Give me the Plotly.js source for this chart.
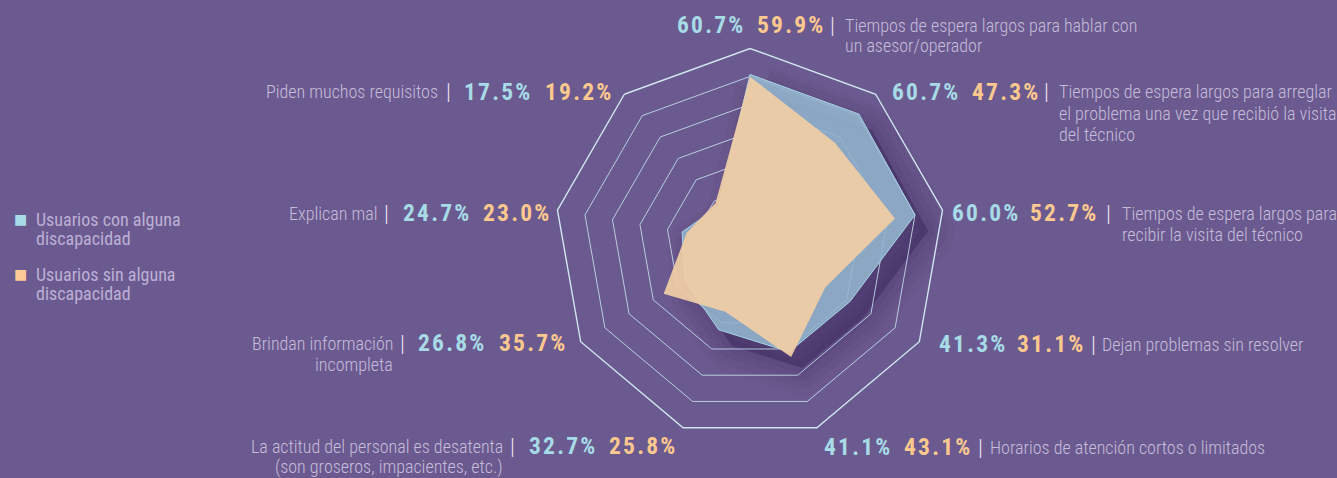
<!DOCTYPE html>
<html>
<head>
<meta charset="utf-8">
<script src="https://cdn.plot.ly/plotly-3.0.1.min.js"></script>
<style>
  html, body { margin:0; padding:0; background:#6b5a8f; }
  #chart { width:1337px; height:478px; }
  .polar .scatterlayer path.js-line { stroke-linejoin: round; }
</style>
</head>
<body>
<div id="chart"></div>
<script>
// ---- data ----
const categories = [
  "Tiempos de espera largos para hablar con<br>un asesor/operador",
  "Tiempos de espera largos para arreglar<br>el problema una vez que recibió la visita<br>del técnico",
  "Tiempos de espera largos para<br>recibir la visita del técnico",
  "Dejan problemas sin resolver",
  "Horarios de atención cortos o limitados",
  "La actitud del personal es desatenta<br>(son groseros, impacientes, etc.)",
  "Brindan información<br>incompleta",
  "Explican mal",
  "Piden muchos requisitos"
];
const conDiscapacidad = [60.7, 60.7, 60.0, 41.3, 41.1, 32.7, 26.8, 24.7, 17.5];
const sinDiscapacidad = [59.9, 47.3, 52.7, 31.1, 43.1, 25.8, 35.7, 23.0, 19.2];
const seriesNames = ["Usuarios con alguna<br>discapacidad", "Usuarios sin alguna<br>discapacidad"];

// ---- style / layout ----
const W = 1337, H = 478;
const BG = '#6b5a8f';
const BLUE_TXT = '#a7dbe7', ORANGE_TXT = '#fdc98f', CAT_TXT = '#c6bddb', PIPE = '#e8e2f2';
const FONT = '"Roboto Condensed", "Liberation Sans Narrow", "DejaVu Sans Condensed", Roboto, sans-serif';
const cx = 750, cy = 244, R = 195.5;

// label placement (pixels): blue value x, orange value x, pipe x, text x, first-line y, side
const labelPos = [
  {b:675, o:755, p:832, t:843, y:25, side:'right'},
  {b:890, o:970, p:1046, t:1057, y:92, side:'right'},
  {b:950, o:1028, p:1108, t:1120, y:213, side:'right'},
  {b:937, o:1015, p:1093, t:1100, y:344, side:'right'},
  {b:822, o:902, p:980, t:988, y:447, side:'right'},
  {b:527, o:607, p:512, t:505, y:446, side:'left'},
  {b:416, o:497, p:402, t:395, y:343, side:'left'},
  {b:401, o:481, p:386, t:379, y:213, side:'left'},
  {b:462, o:543, p:448, t:440, y:92, side:'left'}
];
const LINE_GAP = 21;

const px = x => x / W;
const py = y => 1 - y / H;
const theta = categories.map(c => c.replace(/<br>/g, ' '));

function dom(dx, dy) {
  return {
    x: [px(cx - R + dx), px(cx + R + dx)],
    y: [py(cy + R + dy), py(cy - R + dy)]
  };
}

const close = arr => arr.concat([arr[0]]);
const thetaC = close(theta);

const traces = [];
// soft shadow layers (drawn in an offset, invisible polar subplot)
const shadowLayers = [
  {w: 54, a: 0.035}, {w: 40, a: 0.05}, {w: 26, a: 0.065}, {w: 12, a: 0.08}
];
shadowLayers.forEach(s => {
  traces.push({
    type: 'scatterpolar', subplot: 'polar', r: close(conDiscapacidad), theta: thetaC,
    mode: 'lines', fill: 'toself', fillcolor: 'rgba(45,28,75,0.10)',
    line: {color: 'rgba(45,28,75,' + s.a + ')', width: s.w},
    hoverinfo: 'skip', showlegend: false
  });
});
traces.push({
  type: 'scatterpolar', subplot: 'polar2', r: close(conDiscapacidad), theta: thetaC,
  name: seriesNames[0], mode: 'lines', fill: 'toself',
  fillcolor: 'rgba(146,179,204,0.9)', line: {color: 'rgba(170,215,232,0.95)', width: 1},
  showlegend: false
});
traces.push({
  type: 'scatterpolar', subplot: 'polar2', r: close(sinDiscapacidad), theta: thetaC,
  name: seriesNames[1], mode: 'lines', fill: 'toself',
  fillcolor: 'rgba(240,206,166,0.93)', line: {color: 'rgba(240,206,166,0.0)', width: 0},
  showlegend: false
});

const annotations = [];
const fmt = v => v.toFixed(1) + '%';
const CAT_SIZE = 18, VAL_SIZE = 23.5;
function textLines(lines, x, y0, anchor, size, color, weight, gap) {
  lines.forEach((ln, k) => {
    annotations.push({
      xref:'paper', yref:'paper', x:px(x), y:py(y0 + k * gap), showarrow:false,
      xanchor: anchor, yanchor:'middle', text: ln,
      font:{family:FONT, size:size, color:color, weight:weight}
    });
  });
}
categories.forEach((cat, i) => {
  const L = labelPos[i];
  textLines(cat.split('<br>'), L.t, L.y, L.side === 'right' ? 'left' : 'right',
            CAT_SIZE, CAT_TXT, 300, LINE_GAP);
  annotations.push({
    xref:'paper', yref:'paper', x:px(L.p), y:py(L.y), showarrow:false,
    xanchor:'center', yanchor:'middle', text:'|',
    font:{family:FONT, size:22, color:PIPE, weight:300}
  });
  annotations.push({
    xref:'paper', yref:'paper', x:px(L.b), y:py(L.y), showarrow:false,
    xanchor:'left', yanchor:'middle',
    text:'<span style="letter-spacing:2.2px">' + fmt(conDiscapacidad[i]) + '</span>',
    font:{family:FONT, size:VAL_SIZE, color:BLUE_TXT, weight:700}
  });
  annotations.push({
    xref:'paper', yref:'paper', x:px(L.o), y:py(L.y), showarrow:false,
    xanchor:'left', yanchor:'middle',
    text:'<span style="letter-spacing:2.2px">' + fmt(sinDiscapacidad[i]) + '</span>',
    font:{family:FONT, size:VAL_SIZE, color:ORANGE_TXT, weight:700}
  });
});

// legend (as text)
const legendPos = [{sx:20, tx:34, y:219}, {sx:20, tx:34, y:274}];
const legendColors = [BLUE_TXT, '#fdcb95'];
seriesNames.forEach((n, i) => {
  const L = legendPos[i];
  annotations.push({
    xref:'paper', yref:'paper', x:px(L.sx), y:py(L.y), showarrow:false,
    xanchor:'center', yanchor:'middle', text:'■',
    font:{family:'DejaVu Sans', size:14, color:legendColors[i]}
  });
  textLines(n.split('<br>'), L.tx, L.y, 'left', 18, '#bcb0d6', 400, 19.5);
});

const hiddenAxis = {
  angularaxis: {rotation:90, direction:'clockwise', showticklabels:false, ticks:'', showgrid:false, showline:false},
  radialaxis: {range:[0,70], showticklabels:false, ticks:'', showgrid:false, showline:false}
};

const layout = {
  width: W, height: H,
  margin: {l:0, r:0, t:0, b:0, pad:0},
  paper_bgcolor: BG, plot_bgcolor: BG,
  showlegend: false,
  polar: Object.assign({domain: dom(13, 16), bgcolor:'rgba(0,0,0,0)', gridshape:'linear'}, hiddenAxis),
  polar2: {
    domain: dom(0, 0), bgcolor:'rgba(0,0,0,0)', gridshape:'linear',
    angularaxis: {rotation:90, direction:'clockwise', showticklabels:false, ticks:'',
      showgrid:false, showline:true, linecolor:'rgba(215,238,248,0.95)', linewidth:1.4, layer:'below traces'},
    radialaxis: {range:[0,70], dtick:10, tick0:0, showticklabels:false, ticks:'', showline:false,
      gridcolor:'rgba(205,232,246,0.8)', gridwidth:1, angle:90, layer:'below traces'}
  },
  annotations: annotations
};

Plotly.newPlot('chart', traces, layout, {displayModeBar:false, staticPlot:true});
</script>
</body>
</html>
